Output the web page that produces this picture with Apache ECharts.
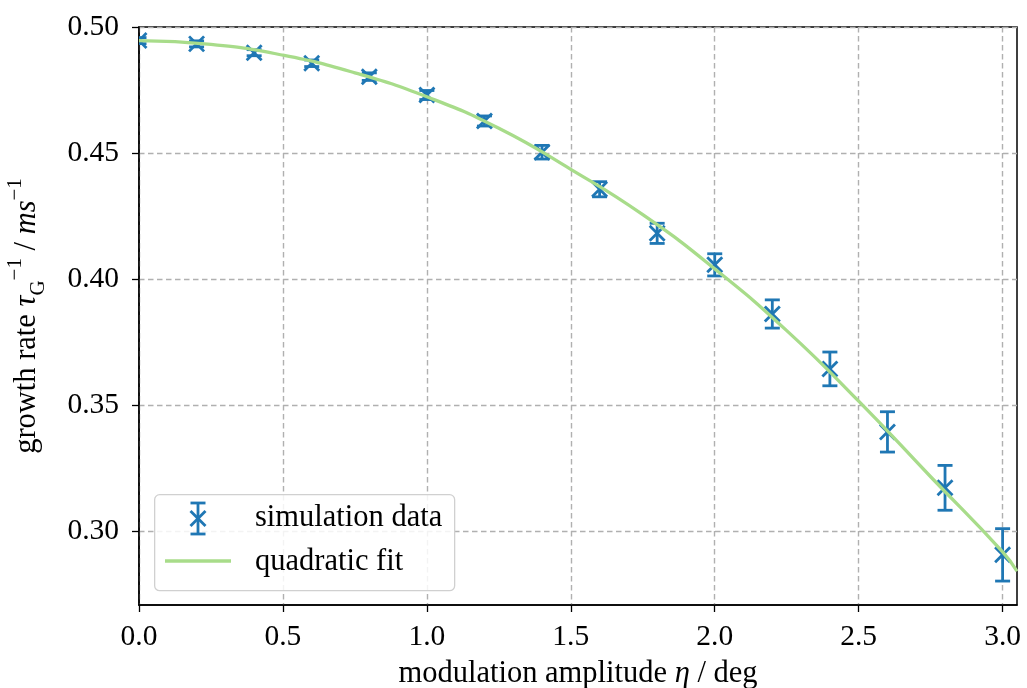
<!DOCTYPE html>
<html>
<head>
<meta charset="utf-8">
<script src="https://cdn.jsdelivr.net/npm/echarts@6/dist/echarts.min.js"></script>
<style>html,body{margin:0;padding:0;background:#fff;}#c{width:1027px;height:688px;}</style>
</head>
<body>
<div id="c"></div>
<script>
// ---- data ----
const etaValues = [0.0, 0.2, 0.4, 0.6, 0.8, 1.0, 1.2, 1.4, 1.6, 1.8, 2.0, 2.2, 2.4, 2.6, 2.8, 3.0];
const rateValues = [0.4946, 0.4933, 0.4898, 0.4856, 0.4803, 0.4730, 0.4627, 0.4503, 0.4356, 0.4181, 0.4056, 0.3861, 0.3643, 0.3393, 0.3171, 0.2905];
const rateErrors = [0.0012, 0.0012, 0.0012, 0.0013, 0.0015, 0.0018, 0.0020, 0.0027, 0.0030, 0.0040, 0.0044, 0.0056, 0.0067, 0.0080, 0.0089, 0.0104];
const fitEta = [0.0, 0.25, 0.5, 0.75, 1.0, 1.25, 1.5, 1.75, 2.0, 2.25, 2.5, 2.75, 3.0, 3.05];
const fitRate = [0.4946, 0.4931, 0.4888, 0.4818, 0.4723, 0.4598, 0.4435, 0.4255, 0.4040, 0.3795, 0.3515, 0.3215, 0.2917, 0.2840];
const xTicks = [0.0, 0.5, 1.0, 1.5, 2.0, 2.5, 3.0];
const yTicks = [0.30, 0.35, 0.40, 0.45, 0.50];
const seriesNames = ['simulation data', 'quadratic fit'];

const BLUE = '#1f77b4';
const GREEN = '#a8dc8a';
const FONT = '"Liberation Serif", "DejaVu Serif", serif';
const TICK_FS = 29.5;
const LABEL_FS = 30.5;

const errData = etaValues.map((x, i) => [x, rateValues[i], rateErrors[i]]);
const fitData = fitEta.map((x, i) => [x, fitRate[i]]);

const chart = echarts.init(document.getElementById('c'), null, {renderer: 'canvas'});

function renderErr(params, api) {
  const x = api.value(0), y = api.value(1), e = api.value(2);
  const pTop = api.coord([x, y + e]);
  const pBot = api.coord([x, y - e]);
  const pMid = api.coord([x, y]);
  const cap = 7.5, m = 7.5;
  const st = {stroke: BLUE, lineWidth: 2.8};
  return {
    type: 'group',
    children: [
      {type: 'line', shape: {x1: pTop[0], y1: pTop[1], x2: pBot[0], y2: pBot[1]}, style: st},
      {type: 'line', shape: {x1: pTop[0] - cap, y1: pTop[1], x2: pTop[0] + cap, y2: pTop[1]}, style: st},
      {type: 'line', shape: {x1: pBot[0] - cap, y1: pBot[1], x2: pBot[0] + cap, y2: pBot[1]}, style: st},
      {type: 'line', shape: {x1: pMid[0] - m, y1: pMid[1] - m, x2: pMid[0] + m, y2: pMid[1] + m}, style: st},
      {type: 'line', shape: {x1: pMid[0] - m, y1: pMid[1] + m, x2: pMid[0] + m, y2: pMid[1] - m}, style: st}
    ]
  };
}

const gridDash = {color: '#b0b0b0', width: 1.4, type: [5.5, 3.5]};
const legStyle = {stroke: BLUE, lineWidth: 2.8};
const LX = 198, LT = 503, LB = 534, LM = 518.5;

const option = {
  animation: false,
  backgroundColor: '#fff',
  textStyle: {fontFamily: FONT},
  grid: {left: 139, right: 10, top: 27, bottom: 83, containLabel: false, outerBoundsMode: 'none',
    show: true, borderColor: '#000', borderWidth: 1.5, backgroundColor: 'transparent'},
  xAxis: {
    type: 'value', min: 0, max: 3.05,
    name: 'modulation amplitude {it|η} / deg',
    nameLocation: 'middle', nameGap: 53,
    nameTextStyle: {fontFamily: FONT, fontSize: LABEL_FS, color: '#000',
      rich: {it: {fontFamily: FONT, fontStyle: 'italic', fontSize: LABEL_FS, color: '#000'}}},
    axisLine: {show: true, lineStyle: {color: '#000', width: 1.5}},
    axisTick: {show: true, inside: false, length: 7, lineStyle: {color: '#000', width: 1.3}, customValues: xTicks},
    axisLabel: {fontFamily: FONT, fontSize: TICK_FS, color: '#000', margin: 17, customValues: xTicks,
      formatter: v => v.toFixed(1)},
    splitLine: {show: true, lineStyle: gridDash}
  },
  yAxis: {
    type: 'value', min: 0.2706, max: 0.5,
    name: 'growth rate {it|τ}{sub|G}{sup|−1} / {it|ms}{sup|−1}',
    nameLocation: 'middle', nameGap: 90, nameRotate: 90,
    nameTextStyle: {fontFamily: FONT, fontSize: LABEL_FS, color: '#000', lineHeight: 44,
      rich: {
        it: {fontFamily: FONT, fontStyle: 'italic', fontSize: LABEL_FS, color: '#000', lineHeight: 44},
        sup: {fontFamily: FONT, fontSize: 21, color: '#000', verticalAlign: 'top', lineHeight: 21},
        sub: {fontFamily: FONT, fontSize: 21, color: '#000', verticalAlign: 'bottom', lineHeight: 21}
      }},
    axisLine: {show: true, lineStyle: {color: '#000', width: 1.5}},
    axisTick: {show: true, inside: false, length: 7, lineStyle: {color: '#000', width: 1.3}, customValues: yTicks},
    axisLabel: {fontFamily: FONT, fontSize: TICK_FS, color: '#000', margin: 20, customValues: yTicks,
      formatter: v => v.toFixed(2)},
    splitLine: {show: true, lineStyle: gridDash}
  },
  series: [
    {
      name: seriesNames[0], type: 'custom', renderItem: renderErr,
      data: errData, encode: {x: 0, y: 1}, z: 3, clip: true
    },
    {
      name: seriesNames[1], type: 'line', data: fitData, smooth: true, showSymbol: false,
      lineStyle: {color: GREEN, width: 3.3}, z: 4, clip: true
    }
  ],
  graphic: [
    {type: 'rect', left: 154, top: 494, z: 100,
      shape: {width: 300, height: 96, r: 5},
      style: {fill: 'rgba(255,255,255,0.85)', stroke: '#d0d0d0', lineWidth: 1.3}},
    {type: 'line', z: 101, shape: {x1: LX, y1: LT, x2: LX, y2: LB}, style: legStyle},
    {type: 'line', z: 101, shape: {x1: LX - 7.5, y1: LT, x2: LX + 7.5, y2: LT}, style: legStyle},
    {type: 'line', z: 101, shape: {x1: LX - 7.5, y1: LB, x2: LX + 7.5, y2: LB}, style: legStyle},
    {type: 'line', z: 101, shape: {x1: LX - 7.5, y1: LM - 7.5, x2: LX + 7.5, y2: LM + 7.5}, style: legStyle},
    {type: 'line', z: 101, shape: {x1: LX - 7.5, y1: LM + 7.5, x2: LX + 7.5, y2: LM - 7.5}, style: legStyle},
    {type: 'line', z: 101, shape: {x1: 165, y1: 561, x2: 231, y2: 561}, style: {stroke: GREEN, lineWidth: 3.3}},
    {type: 'text', z: 101, x: 255, y: 518,
      style: {text: seriesNames[0], font: LABEL_FS + 'px ' + FONT, fill: '#000', verticalAlign: 'middle'}},
    {type: 'text', z: 101, x: 255, y: 562,
      style: {text: seriesNames[1], font: LABEL_FS + 'px ' + FONT, fill: '#000', verticalAlign: 'middle'}}
  ]
};
chart.setOption(option);
</script>
</body>
</html>
